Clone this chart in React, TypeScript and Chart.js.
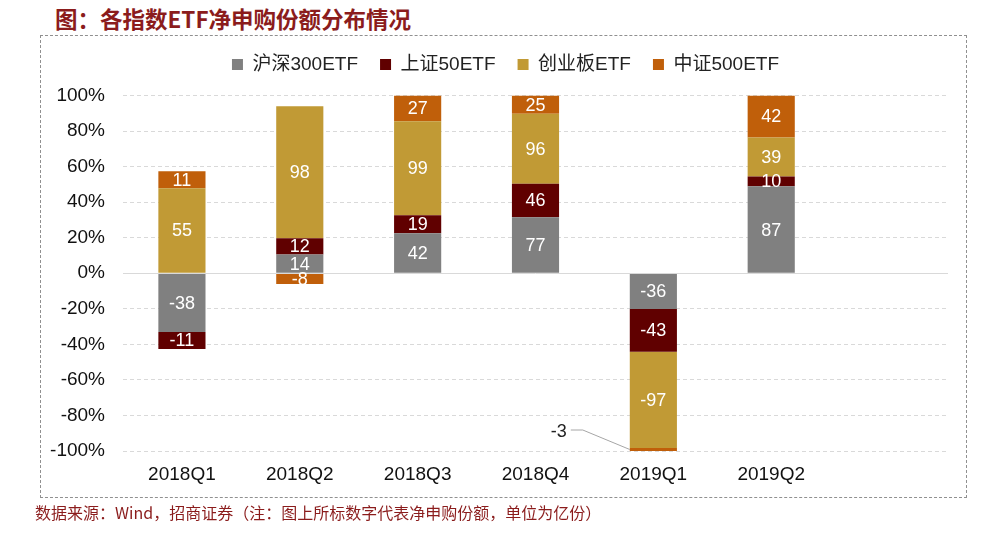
import React, { useEffect, useRef } from "react";
import { Chart, registerables } from "chart.js";

Chart.register(...registerables);

const categories = ["2018Q1", "2018Q2", "2018Q3", "2018Q4", "2019Q1", "2019Q2", ""];
const seriesNames = ["沪深300ETF", "上证50ETF", "创业板ETF", "中证500ETF"];
const hs300 = [-38, 14, 42, 77, -36, 87];
const sz50 = [-11, 12, 19, 46, -43, 10];
const cyb = [55, 98, 99, 96, -97, 39];
const zz500 = [11, -8, 27, 25, -3, 42];
const seriesColors = ["#808080", "#600000", "#C19A35", "#C05F0A"];
const yMin = -1;
const yMax = 1;
const yStep = 0.2;

const rawSeries = [hs300, sz50, cyb, zz500];

const FONT = '"Liberation Sans", Arial, "Noto Sans CJK SC", sans-serif';

function shares(series: number[]): number[] {
  return series.map((v, i) => {
    const total = rawSeries.reduce((s, arr) => s + Math.abs(arr[i]), 0);
    return v / total;
  });
}

const legendSpacer = {
  id: "legendSpacer",
  beforeInit(chart: any) {
    const orig = chart.legend.fit;
    chart.legend.fit = function () {
      orig.call(this);
      this.height += 11.5;
    };
  },
  afterLayout(chart: any) {
    chart.legend.left += 15;
  },
};

const zeroLine = {
  id: "zeroLine",
  afterDatasetsDraw(chart: any) {
    const { ctx, chartArea } = chart;
    const y = Math.round(chart.scales.y.getPixelForValue(0)) + 0.5;
    ctx.save();
    ctx.strokeStyle = "#d9d9d9";
    ctx.lineWidth = 1;
    ctx.beginPath();
    ctx.moveTo(chartArea.left, y);
    ctx.lineTo(chartArea.right, y);
    ctx.stroke();
    ctx.restore();
  },
};

const segLabels = {
  id: "segLabels",
  afterDatasetsDraw(chart: any) {
    const ctx = chart.ctx;
    ctx.save();
    ctx.font = "18px " + FONT;
    ctx.textBaseline = "middle";
    chart.data.datasets.forEach((_ds: any, di: number) => {
      const meta = chart.getDatasetMeta(di);
      meta.data.forEach((el: any, i: number) => {
        const raw = rawSeries[di][i];
        if (raw === undefined) return;
        const { x, y, base, width } = el.getProps(["x", "y", "base", "width"], true);
        const h = Math.abs(base - y);
        const cy = (y + base) / 2;
        if (h < 8) {
          const left = x - width / 2;
          ctx.strokeStyle = "#a6a6a6";
          ctx.lineWidth = 1;
          ctx.beginPath();
          ctx.moveTo(left, cy);
          ctx.lineTo(left - 47, cy - 19.5);
          ctx.lineTo(left - 59, cy - 19.5);
          ctx.stroke();
          ctx.fillStyle = "#222";
          ctx.textAlign = "right";
          ctx.fillText(String(raw), left - 63, cy - 17);
        } else {
          ctx.fillStyle = "#ffffff";
          ctx.textAlign = "center";
          ctx.fillText(String(raw), x, cy + 1);
        }
      });
    });
    ctx.restore();
  },
};

export default function App() {
  const ref = useRef<HTMLCanvasElement | null>(null);

  useEffect(() => {
    if (!ref.current) return;
    const chart = new Chart(ref.current, {
      type: "bar",
      data: {
        labels: categories,
        datasets: rawSeries.map((s, i) => ({
          label: seriesNames[i],
          data: shares(s),
          backgroundColor: seriesColors[i],
          borderWidth: 0,
          barPercentage: 0.4,
          categoryPercentage: 1,
        })),
      },
      options: {
        responsive: false,
        animation: false,
        layout: { padding: { left: 48, right: 52, top: 33, bottom: 0 } },
        plugins: {
          tooltip: { enabled: false },
          legend: {
            position: "top",
            align: "center",
            labels: {
              boxWidth: 11,
              boxHeight: 11,
              padding: 22,
              color: "#222",
              font: { size: 19, family: FONT },
            },
          },
        },
        scales: {
          x: {
            stacked: true,
            grid: { display: false, drawTicks: false },
            border: { display: false },
            ticks: { color: "#111", padding: 12, font: { size: 19, family: FONT } },
            afterFit(scale: any) {
              scale.height = 89;
            },
          },
          y: {
            stacked: true,
            min: yMin,
            max: yMax,
            grid: { color: "#d9d9d9", drawTicks: false, lineWidth: 1 },
            border: { display: false, dash: [4, 3] },
            ticks: {
              stepSize: yStep,
              padding: 18,
              color: "#111",
              font: { size: 19, family: FONT },
              callback: (v: any) => `${Math.round(Number(v) * 100)}%`,
            },
            afterFit(scale: any) {
              scale.width = 75;
            },
          },
        },
      },
      plugins: [legendSpacer, zeroLine, segLabels],
    });
    return () => chart.destroy();
  }, []);

  return (
    <div
      style={{
        position: "absolute",
        left: 0,
        top: 0,
        width: 1000,
        height: 540,
        background: "#fff",
        overflow: "hidden",
      }}
    >
      <div
        style={{
          position: "absolute",
          left: 55,
          top: 4,
          fontSize: 22.5,
          lineHeight: "28px",
          fontWeight: 700,
          color: "#8B1C1C",
          fontFamily: '"Noto Sans CJK SC", sans-serif',
          whiteSpace: "nowrap",
        }}
      >
        图：各指数ETF净申购份额分布情况
      </div>
      <div
        style={{
          position: "absolute",
          left: 40,
          top: 35,
          width: 925,
          height: 461,
          border: "1px dashed #909090",
        }}
      />
      <canvas
        ref={ref}
        width={1000}
        height={540}
        style={{ position: "absolute", left: 0, top: 0 }}
      />
      <div
        style={{
          position: "absolute",
          left: 35,
          top: 502,
          fontSize: 16,
          lineHeight: "20px",
          color: "#8B1C1C",
          fontFamily: '"Noto Sans CJK SC", sans-serif',
          whiteSpace: "nowrap",
        }}
      >
        数据来源：Wind，招商证券（注：图上所标数字代表净申购份额，单位为亿份）
      </div>
    </div>
  );
}
